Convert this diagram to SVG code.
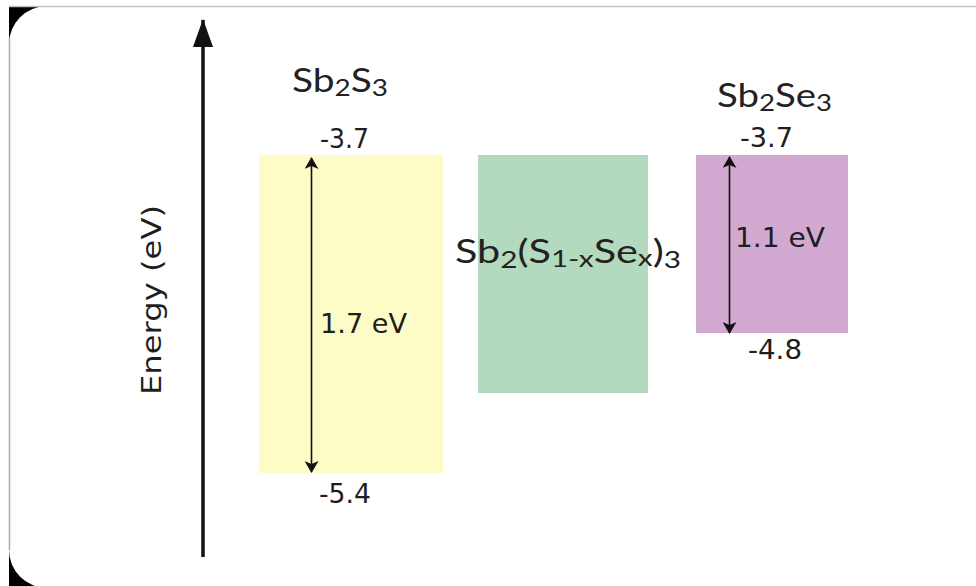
<svg xmlns="http://www.w3.org/2000/svg" width="976" height="586" viewBox="0 0 976 586">
<style>
.num{font-family:"DejaVu Sans",sans-serif;font-size:27px;fill:#1e1e1e}
.frm{font-family:Lato,"Open Sans",sans-serif;font-size:32px;fill:#222}
.sub{font-size:23px}
.gap{stroke:#111;stroke-width:1.6;fill:none}
</style>
<defs>
<marker id="ah" viewBox="0 0 12 14" refX="11" refY="7" markerWidth="12" markerHeight="14" markerUnits="userSpaceOnUse" orient="auto-start-reverse">
<path d="M0,0 L12,7 L0,14 L3,7 Z" fill="#111"/>
</marker>
<marker id="axh" viewBox="0 0 28 20" refX="27" refY="10" markerWidth="28" markerHeight="20" markerUnits="userSpaceOnUse" orient="auto">
<path d="M0,0 L28,10 L0,20 Z" fill="#111"/>
</marker>
</defs>
<rect x="0" y="0" width="976" height="586" fill="#fff"/>
<rect x="9" y="6" width="967" height="580" fill="#000"/>
<rect x="9" y="6" width="1000" height="582" rx="38" ry="38" fill="#fff"/>
<line x1="9" y1="6.5" x2="976" y2="6.5" stroke="#c4c4c4" stroke-width="1.5"/>
<line x1="9.5" y1="38" x2="9.5" y2="550" stroke="#aaa" stroke-width="1.5"/>

<g id="axis">
<text class="num" transform="translate(161,300) rotate(-90)" text-anchor="middle" font-size="30" textLength="190" lengthAdjust="spacingAndGlyphs">Energy (eV)</text>
</g>

<g id="sb2s3">
<rect x="259" y="155" width="184" height="318" fill="#fdfbc6"/>
<text class="frm" x="292" y="92" textLength="96" lengthAdjust="spacingAndGlyphs">Sb<tspan class="sub" dy="4">2</tspan><tspan dy="-4">S</tspan><tspan class="sub" dy="4">3</tspan></text>
<text class="num" x="320" y="148" textLength="49" lengthAdjust="spacingAndGlyphs">-3.7</text>
<text class="num" x="319" y="503" textLength="52" lengthAdjust="spacingAndGlyphs">-5.4</text>
<text class="num" x="320" y="333" textLength="87" lengthAdjust="spacingAndGlyphs">1.7 eV</text>
</g>

<g id="alloy">
<rect x="478" y="155" width="170" height="238" fill="#b3d9bf"/>
<text class="frm" x="455" y="263" textLength="226" lengthAdjust="spacingAndGlyphs">Sb<tspan class="sub" dy="5">2</tspan><tspan dy="-5">(S</tspan><tspan class="sub" dy="4">1-x</tspan><tspan dy="-4">Se</tspan><tspan class="sub" dy="3">x</tspan><tspan dy="-3">)</tspan><tspan class="sub" dy="5">3</tspan></text>
</g>

<g id="sb2se3">
<rect x="696" y="155" width="152" height="178" fill="#d1a9d1"/>
<text class="frm" x="717" y="107" textLength="115" lengthAdjust="spacingAndGlyphs">Sb<tspan class="sub" dy="4">2</tspan><tspan dy="-4">Se</tspan><tspan class="sub" dy="4">3</tspan></text>
<text class="num" x="740" y="147" textLength="53" lengthAdjust="spacingAndGlyphs">-3.7</text>
<text class="num" x="748" y="359" textLength="54" lengthAdjust="spacingAndGlyphs">-4.8</text>
<text class="num" x="735" y="247" textLength="90" lengthAdjust="spacingAndGlyphs">1.1 eV</text>
</g>

<g id="connectors">
<line x1="203" y1="557" x2="203" y2="20" stroke="#111" stroke-width="3.5" marker-end="url(#axh)"/>
<line class="gap" x1="311.5" y1="158" x2="311.5" y2="472" marker-start="url(#ah)" marker-end="url(#ah)"/>
<line class="gap" x1="729.5" y1="157" x2="729.5" y2="333" marker-start="url(#ah)" marker-end="url(#ah)"/>
</g>
</svg>
